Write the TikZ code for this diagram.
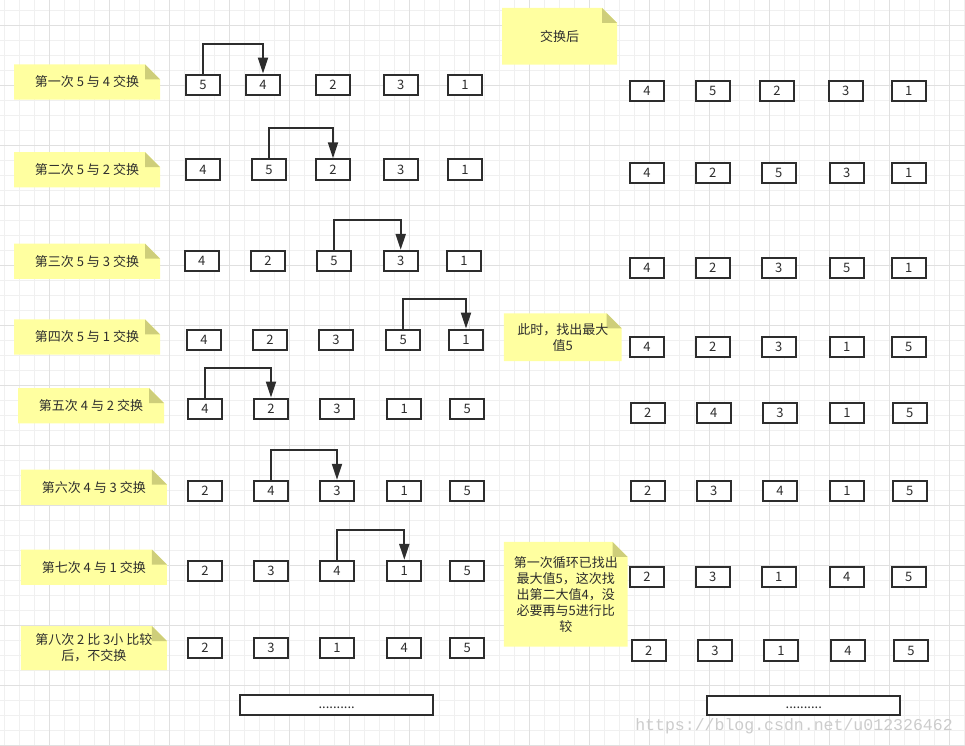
\documentclass[tikz,border=0pt]{standalone}
\usepackage{fontspec}
\setmainfont{Noto Sans CJK SC}
\newfontfamily\wmfont{Liberation Mono}
\usetikzlibrary{arrows.meta}
\definecolor{ink}{RGB}{45,45,45}
\definecolor{notebg}{RGB}{255,255,160}
\definecolor{notefold}{RGB}{206,206,122}
\definecolor{gminorc}{RGB}{240,240,240}
\definecolor{gmajorc}{RGB}{224,224,224}

\begin{document}
\begin{tikzpicture}[x=0.75pt,y=-0.75pt,
  gminor/.style={draw=gminorc,line width=0.75pt},
  gmajor/.style={draw=gmajorc,line width=0.75pt},
  cell/.style={draw=ink,line width=1.5pt,fill=white,minimum width=25.5pt,minimum height=15.3pt,inner sep=0pt,font=\fontsize{9.75}{12}\selectfont,text=ink},
  wide/.style={cell,minimum width=144.5pt,minimum height=14.6pt},
  swaparrow/.style={draw=ink,line width=1.5pt,-{Triangle[length=12pt,width=7.5pt]}},
  notebox/.style={inner sep=1pt,align=center,font=\fontsize{9.75}{12}\selectfont,text=ink,
    path picture={
      \fill[notebg] (path picture bounding box.south west) -- (path picture bounding box.north west)
        -- ([xshift=-11.25pt]path picture bounding box.north east) -- ([yshift=-11.25pt]path picture bounding box.north east)
        -- (path picture bounding box.south east) -- cycle;
      \fill[notefold] ([xshift=-11.25pt]path picture bounding box.north east)
        -- ([xshift=-11.25pt,yshift=-11.25pt]path picture bounding box.north east)
        -- ([yshift=-11.25pt]path picture bounding box.north east) -- cycle;
    }},
  lnote/.style={notebox,minimum width=109.5pt,minimum height=26.5pt},
  wm/.style={font=\wmfont\fontsize{12.4}{14}\selectfont,text=gray!40,inner sep=0pt}]
  \useasboundingbox (0,0) rectangle (965,746);
  \fill[white] (0,0) rectangle (965,746);
  % ---------- grid ----------
  \foreach \k in {0,...,64} \draw[gminor] (4.5+15*\k,0) -- (4.5+15*\k,746);
  \foreach \k in {0,...,49} \draw[gminor] (0,10+15*\k) -- (965,10+15*\k);
  \foreach \k in {0,...,15} \draw[gmajor] (49.5+60*\k,0) -- (49.5+60*\k,746);
  \foreach \k in {0,...,12} \draw[gmajor] (0,25+60*\k) -- (965,25+60*\k);
  % ---------- left: notes ----------
  \node[lnote] (n1) at (87,82) {第一次 5 与 4 交换};
  \node[lnote] (n2) at (87,169.8) {第二次 5 与 2 交换};
  \node[lnote] (n3) at (87,261.2) {第三次 5 与 3 交换};
  \node[lnote] (n4) at (87,337) {第四次 5 与 1 交换};
  \node[lnote] (n5) at (91,405.8) {第五次 4 与 2 交换};
  \node[lnote] (n6) at (93.8,487.2) {第六次 4 与 3 交换};
  \node[lnote] (n7) at (93.8,567.2) {第七次 4 与 1 交换};
  \node[lnote,minimum height=33pt] (n8) at (93.8,648) {第八次 2 比 3小 比较\\后，不交换};
  % ---------- left: one row per step, arrow = swap ----------
  \foreach \x/\v [count=\i] in {203/5,263/4,333/2,400.7/3,465/1}
    \node[cell] (a1\i) at (\x,84.7) {\v};
  \foreach \x/\v [count=\i] in {203/4,269/5,333/2,400.7/3,465/1}
    \node[cell] (a2\i) at (\x,169.5) {\v};
  \foreach \x/\v [count=\i] in {201.7/4,268/2,334/5,400.7/3,464/1}
    \node[cell] (a3\i) at (\x,261) {\v};
  \foreach \x/\v [count=\i] in {204/4,270/2,336/3,403.3/5,466/1}
    \node[cell] (a4\i) at (\x,339.7) {\v};
  \foreach \x/\v [count=\i] in {205/4,271/2,337/3,404.3/1,467.3/5}
    \node[cell] (a5\i) at (\x,408.8) {\v};
  \foreach \x/\v [count=\i] in {205/2,271/4,337/3,404.3/1,467.3/5}
    \node[cell] (a6\i) at (\x,491) {\v};
  \foreach \x/\v [count=\i] in {205/2,271/3,337/4,404.3/1,467.3/5}
    \node[cell] (a7\i) at (\x,571) {\v};
  \foreach \x/\v [count=\i] in {205/2,271/3,337/1,404.3/4,467.3/5}
    \node[cell] (a8\i) at (\x,648) {\v};
  \draw[swaparrow] (a11.north) -- ++(0,-30) -| (a12.north);
  \draw[swaparrow] (a22.north) -- ++(0,-30) -| (a23.north);
  \draw[swaparrow] (a33.north) -- ++(0,-30) -| (a34.north);
  \draw[swaparrow] (a44.north) -- ++(0,-30) -| (a45.north);
  \draw[swaparrow] (a51.north) -- ++(0,-30) -| (a52.north);
  \draw[swaparrow] (a62.north) -- ++(0,-30) -| (a63.north);
  \draw[swaparrow] (a73.north) -- ++(0,-30) -| (a74.north);
  \node[wide] (dotsL) at (336.7,705) {\strut..........};
  % ---------- right: after each swap ----------
  \node[notebox,minimum width=86.25pt,minimum height=42.5pt] (m1) at (559.5,36.3) {交换后};
  \node[notebox,minimum width=88.3pt,minimum height=35.8pt] (m2) at (562.8,337.2) {此时，找出最大\\值5};
  \node[notebox,minimum width=92.8pt,minimum height=78.5pt] (m3) at (565.8,594.3)
    {第一次循环已找出\\最大值5，这次找\\出第二大值4，没\\必要再与5进行比\\较};
  \foreach \x/\v [count=\i] in {647/4,712.7/5,777/2,845.7/3,908.7/1}
    \node[cell] (b1\i) at (\x,90.7) {\v};
  \foreach \x/\v [count=\i] in {647/4,712.7/2,778.7/5,846.7/3,908.7/1}
    \node[cell] (b2\i) at (\x,172.8) {\v};
  \foreach \x/\v [count=\i] in {647/4,712.7/2,778.7/3,846.7/5,908.7/1}
    \node[cell] (b3\i) at (\x,268) {\v};
  \foreach \x/\v [count=\i] in {647/4,712.7/2,778.7/3,846.7/1,908.7/5}
    \node[cell] (b4\i) at (\x,346.8) {\v};
  \foreach \x/\v [count=\i] in {647.7/2,713.7/4,780/3,847/1,909.7/5}
    \node[cell] (b5\i) at (\x,412.8) {\v};
  \foreach \x/\v [count=\i] in {647.7/2,713.7/3,780/4,847/1,909.7/5}
    \node[cell] (b6\i) at (\x,490.8) {\v};
  \foreach \x/\v [count=\i] in {647/2,712.7/3,778.7/1,846.7/4,908.7/5}
    \node[cell] (b7\i) at (\x,577) {\v};
  \foreach \x/\v [count=\i] in {648.7/2,715/3,781/1,848/4,911/5}
    \node[cell] (b8\i) at (\x,650.5) {\v};
  \node[wide] (dotsR) at (803.8,705.3) {\strut..........};
  \node[wm] (wmark) at (794,726) {https://blog.csdn.net/u012326462};
\end{tikzpicture}
\end{document}
